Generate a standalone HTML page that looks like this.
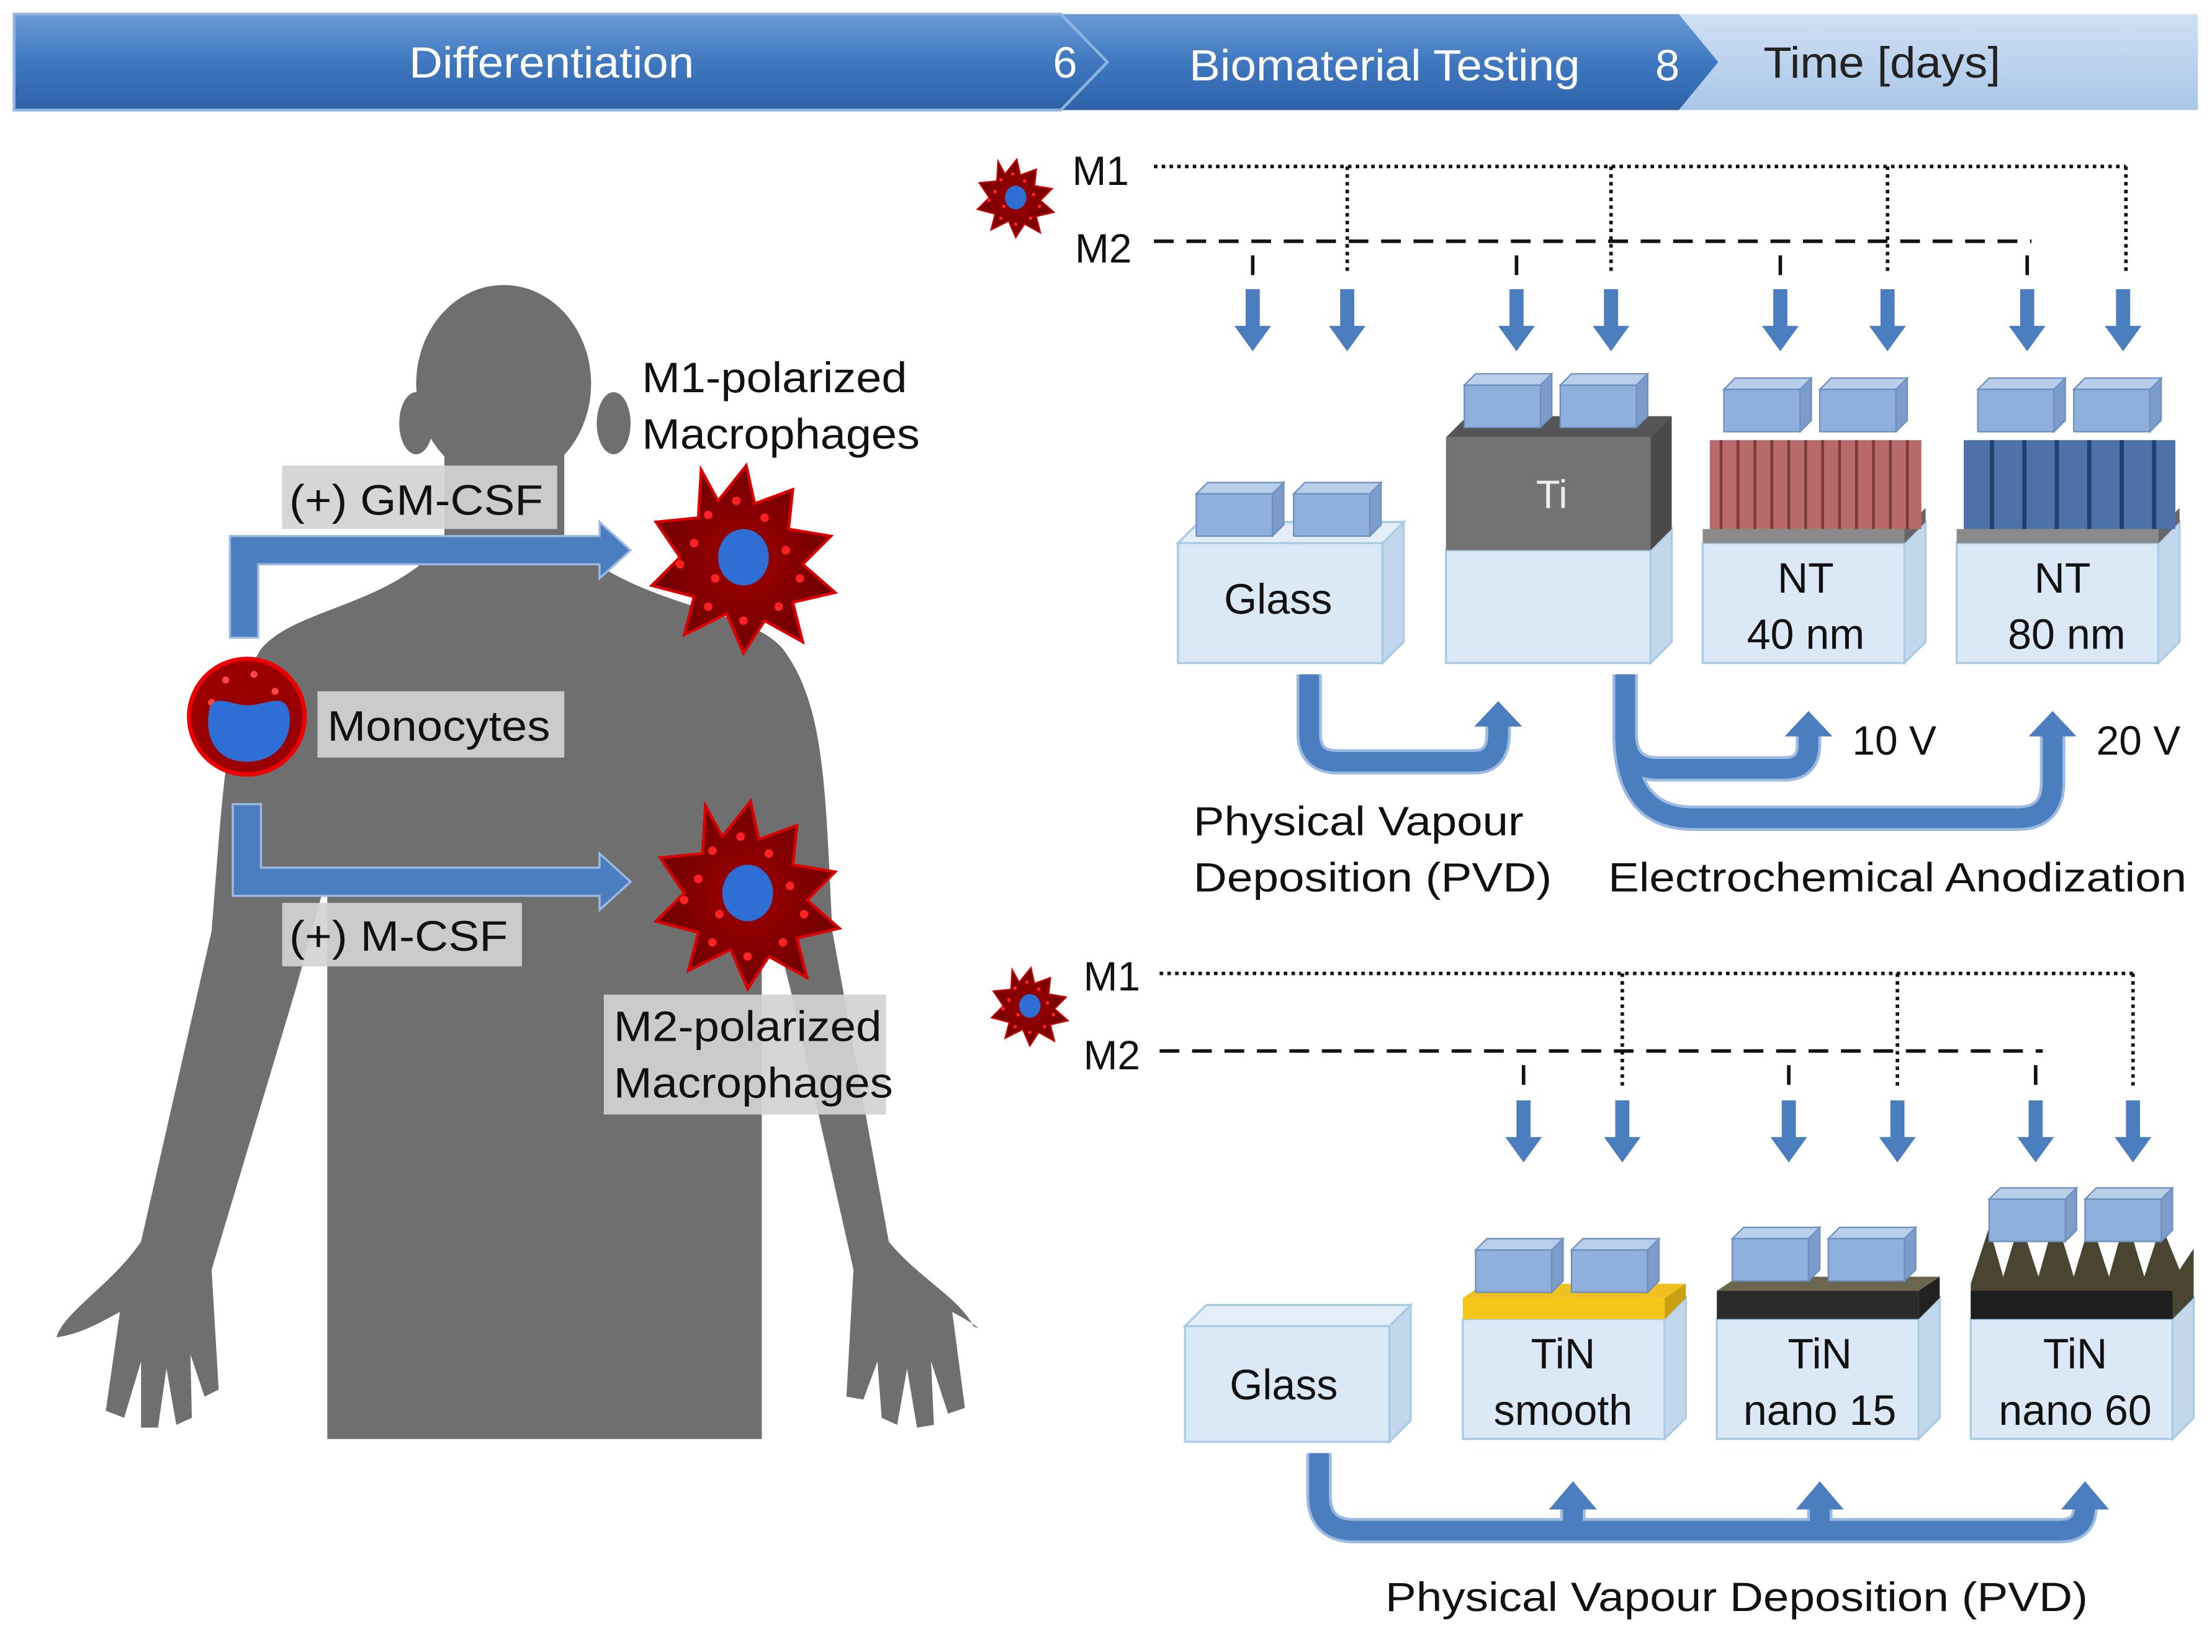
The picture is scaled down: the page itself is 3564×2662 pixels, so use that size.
<!DOCTYPE html>
<html><head><meta charset="utf-8"><style>html,body{margin:0;padding:0;background:#fff}svg{display:block}text{font-family:"Liberation Sans",sans-serif}</style></head>
<body>
<svg width="3564" height="2662" viewBox="0 0 1568 1171" preserveAspectRatio="none" xmlns="http://www.w3.org/2000/svg">
<defs>
<linearGradient id="ban" x1="0" y1="0" x2="0" y2="1"><stop offset="0" stop-color="#6a9bd6"/><stop offset="0.5" stop-color="#3f78c0"/><stop offset="1" stop-color="#2f63a8"/></linearGradient>
<linearGradient id="ban2" x1="0" y1="0" x2="0" y2="1"><stop offset="0" stop-color="#cfe0f3"/><stop offset="1" stop-color="#a9c6e8"/></linearGradient>
<radialGradient id="cell"><stop offset="0" stop-color="#a00000"/><stop offset="1" stop-color="#700000"/></radialGradient>
<g id="cube"><polygon points="0,8 8,0 62,0 54,8" fill="#b9cfe9" stroke="#6c8fbf"/><rect x="0" y="8" width="54" height="30" fill="#8fb0dc" stroke="#6c8fbf"/><polygon points="54,8 62,0 62,30 54,38" fill="#7d9ccb" stroke="#6c8fbf"/></g>
<g id="dn"><rect x="-5" y="0" width="10" height="28" fill="#4a7ebf"/><polygon points="-13,26 13,26 0,44" fill="#4a7ebf"/></g>
<g id="mac"><path d="M-30,-62 L-18,-40 L2,-65 L8,-38 L35,-48 L32,-20 L62,-15 L42,5 L65,25 L35,32 L42,60 L15,45 L0,68 L-12,40 L-42,55 L-35,28 L-65,20 L-45,0 L-62,-25 L-32,-28 Z" fill="url(#cell)" stroke="#d00" stroke-width="2"/>
<g fill="#f22"><circle cx="-25" cy="-30" r="3"/><circle cx="-5" cy="-40" r="3"/><circle cx="15" cy="-28" r="3"/><circle cx="30" cy="-5" r="3"/><circle cx="40" cy="15" r="3"/><circle cx="25" cy="35" r="3"/><circle cx="0" cy="45" r="3"/><circle cx="-25" cy="35" r="3"/><circle cx="-45" cy="5" r="3"/><circle cx="-35" cy="-10" r="3"/><circle cx="-20" cy="15" r="3"/><circle cx="12" cy="-10" r="3"/></g>
<ellipse cx="0" cy="0" rx="18" ry="20" fill="#2e6fd6"/></g>
</defs>
<!-- banner -->
<rect x="10" y="10" width="1548" height="68" fill="url(#ban2)"/>
<polygon points="10,10 1190,10 1218,44 1190,78 10,78" fill="url(#ban)"/>
<polygon points="10,10 752,10 785,44 752,78 10,78" fill="url(#ban)" stroke="#8fb4e0" stroke-width="2"/>
<g lengthAdjust="spacingAndGlyphs">
<text x="290" y="55" font-size="31" fill="#fff" textLength="202" lengthAdjust="spacingAndGlyphs">Differentiation</text>
<text x="755" y="55" font-size="31" fill="#fff" text-anchor="middle">6</text>
<text x="843" y="57" font-size="31" fill="#fff" textLength="277" lengthAdjust="spacingAndGlyphs">Biomaterial Testing</text>
<text x="1182" y="57" font-size="31" fill="#fff" text-anchor="middle">8</text>
<text x="1250" y="55" font-size="31" fill="#222" textLength="168" lengthAdjust="spacingAndGlyphs">Time [days]</text>
</g>
<!-- human -->
<g fill="#6f6f6f">
<ellipse cx="357" cy="272" rx="62" ry="70"/>
<ellipse cx="295" cy="300" rx="12" ry="22"/><ellipse cx="435" cy="300" rx="12" ry="22"/>
<rect x="315" y="300" width="85" height="110"/>
<path d="M318,380 C280,430 210,430 185,460 C160,500 158,560 150,660 L100,880 C80,910 45,930 40,948 C60,945 75,935 85,930 L75,1000 L88,1005 L100,965 L100,1012 L112,1012 L118,970 L125,1010 L136,1005 L135,960 L145,990 L155,985 L150,900 L210,700 L232,620 L232,1020 L540,1020 L540,620 L560,700 L605,900 L600,990 L612,992 L622,965 L625,1005 L636,1010 L643,970 L650,1012 L662,1010 L660,965 L672,1002 L684,998 L675,930 C685,935 700,945 690,940 C680,920 650,905 630,880 L590,660 C585,560 585,500 555,460 C530,430 445,430 400,380 Z"/>
</g>
<!-- big blue arrows -->
<g fill="#4a7ebf" stroke="#9dbbe2" stroke-width="1.5">
<path d="M163,452 L163,380 L425,380 L425,370 L447,390 L425,410 L425,400 L183,400 L183,452 Z"/>
<path d="M165,570 L185,570 L185,615 L425,615 L425,605 L447,625 L425,645 L425,635 L165,635 Z"/>
</g>
<!-- labels -->
<g fill="#d2d2d2" opacity="0.92">
<rect x="200" y="330" width="195" height="45"/><rect x="225" y="490" width="175" height="47"/><rect x="200" y="640" width="170" height="45"/><rect x="428" y="705" width="200" height="85"/>
</g>
<g font-size="30" fill="#111">
<text x="205" y="365" textLength="180" lengthAdjust="spacingAndGlyphs">(+) GM-CSF</text>
<text x="232" y="525" textLength="158" lengthAdjust="spacingAndGlyphs">Monocytes</text>
<text x="205" y="674" textLength="155" lengthAdjust="spacingAndGlyphs">(+) M-CSF</text>
<text x="435" y="738" textLength="190" lengthAdjust="spacingAndGlyphs">M2-polarized</text><text x="435" y="778" textLength="198" lengthAdjust="spacingAndGlyphs">Macrophages</text>
<text x="455" y="278" textLength="188" lengthAdjust="spacingAndGlyphs">M1-polarized</text><text x="455" y="318" textLength="197" lengthAdjust="spacingAndGlyphs">Macrophages</text>
</g>
<use href="#mac" transform="translate(527,395)"/>
<use href="#mac" transform="translate(530,633)"/>
<circle cx="175" cy="508" r="41" fill="#9a0000" stroke="#e00" stroke-width="3"/>
<g fill="#f44"><circle cx="160" cy="482" r="2.5"/><circle cx="180" cy="478" r="2.5"/><circle cx="195" cy="490" r="2.5"/><circle cx="150" cy="498" r="2.5"/></g>
<path d="M148,505 C150,490 165,500 175,500 C188,500 202,490 205,505 C208,525 195,540 175,540 C155,540 145,525 148,505 Z" fill="#2e6fd6"/>
<!-- top legend -->
<use href="#mac" transform="translate(720,140) scale(0.42)"/>
<text x="760" y="131" font-size="29" fill="#111">M1</text>
<text x="762" y="186" font-size="29" fill="#111">M2</text>
<g stroke="#111" stroke-width="2.5" fill="none">
<path d="M818,118 L1507,118 M955,118 V195 M1142,118 V195 M1338,118 V195 M1507,118 V195" stroke-dasharray="2.5,3"/>
<path d="M818,171 L1440,171 M888,181 V195 M1075,181 V195 M1262,181 V195 M1437,181 V195" stroke-dasharray="14,9"/>
<path d="M822,690 L1512,690 M1150,690 V770 M1345,690 V770 M1512,690 V770" stroke-dasharray="2.5,3"/>
<path d="M822,745 L1448,745 M1080,755 V770 M1268,755 V770 M1443,755 V770" stroke-dasharray="14,9"/>
</g>
<use href="#mac" transform="translate(730,713) scale(0.42)"/>
<text x="768" y="702" font-size="29" fill="#111">M1</text>
<text x="768" y="758" font-size="29" fill="#111">M2</text>
<g>
<use href="#dn" x="888" y="205"/><use href="#dn" x="955" y="205"/><use href="#dn" x="1075" y="205"/><use href="#dn" x="1142" y="205"/><use href="#dn" x="1262" y="205"/><use href="#dn" x="1338" y="205"/><use href="#dn" x="1437" y="205"/><use href="#dn" x="1505" y="205"/>
<use href="#dn" x="1080" y="780"/><use href="#dn" x="1150" y="780"/><use href="#dn" x="1268" y="780"/><use href="#dn" x="1345" y="780"/><use href="#dn" x="1443" y="780"/><use href="#dn" x="1512" y="780"/>
</g>
<!-- boxes top -->
<g stroke="#a9cbe4" stroke-width="1.5">
<polygon points="835,385 850,370 995,370 980,385" fill="#e3eef8"/><rect x="835" y="385" width="145" height="85" fill="#dbe9f6"/><polygon points="980,385 995,370 995,455 980,470" fill="#c3d7ea"/>
<rect x="1025" y="390" width="145" height="80" fill="#dbe9f6"/><polygon points="1170,390 1185,375 1185,455 1170,470" fill="#c3d7ea"/>
<rect x="1207" y="385" width="143" height="85" fill="#dbe9f6"/><polygon points="1350,385 1365,370 1365,455 1350,470" fill="#c3d7ea"/>
<rect x="1387" y="385" width="143" height="85" fill="#dbe9f6"/><polygon points="1530,385 1545,370 1545,455 1530,470" fill="#c3d7ea"/>
</g>
<polygon points="1025,310 1040,295 1185,295 1170,310" fill="#555"/><rect x="1025" y="310" width="145" height="80" fill="#737373"/><polygon points="1170,310 1185,295 1185,375 1170,390" fill="#4a4a4a"/>
<text x="1100" y="360" font-size="28" fill="#eee" text-anchor="middle">Ti</text>
<use href="#cube" x="848" y="342"/><use href="#cube" x="917" y="342"/>
<use href="#cube" x="1038" y="265"/><use href="#cube" x="1106" y="265"/>
<!-- NT40 -->
<rect x="1207" y="375" width="143" height="10" fill="#8a8a8a"/><polygon points="1350,375 1365,360 1365,370 1350,385" fill="#666"/>
<rect x="1212" y="312" width="150" height="63" fill="#b86a6a"/>
<g stroke="#7a3a3a" stroke-width="2"><path d="M1220,312V375M1232,312V375M1244,312V375M1256,312V375M1268,312V375M1280,312V375M1292,312V375M1304,312V375M1316,312V375M1328,312V375M1340,312V375M1352,312V375"/></g>
<use href="#cube" x="1222" y="268"/><use href="#cube" x="1290" y="268"/>
<!-- NT80 -->
<rect x="1387" y="375" width="143" height="10" fill="#8a8a8a"/><polygon points="1530,375 1545,360 1545,370 1530,385" fill="#666"/>
<rect x="1392" y="312" width="150" height="63" fill="#4d72a8"/>
<g stroke="#22406e" stroke-width="3"><path d="M1412,312V375M1435,312V375M1458,312V375M1481,312V375M1504,312V375M1527,312V375"/></g>
<use href="#cube" x="1402" y="268"/><use href="#cube" x="1470" y="268"/>
<g font-size="30" fill="#111" text-anchor="middle">
<text x="906" y="435">Glass</text>
<text x="1280" y="420">NT</text><text x="1280" y="460">40 nm</text>
<text x="1462" y="420">NT</text><text x="1465" y="460">80 nm</text>
</g>
<!-- bottom boxes -->
<g stroke="#a9cbe4" stroke-width="1.5">
<polygon points="840,940 855,925 1000,925 985,940" fill="#e3eef8"/><rect x="840" y="940" width="145" height="82" fill="#dbe9f6"/><polygon points="985,940 1000,925 1000,1007 985,1022" fill="#c3d7ea"/>
<rect x="1037" y="935" width="143" height="85" fill="#dbe9f6"/><polygon points="1180,935 1195,920 1195,1005 1180,1020" fill="#c3d7ea"/>
<rect x="1217" y="935" width="143" height="85" fill="#dbe9f6"/><polygon points="1360,935 1375,920 1375,1005 1360,1020" fill="#c3d7ea"/>
<rect x="1397" y="935" width="143" height="85" fill="#dbe9f6"/><polygon points="1540,935 1555,920 1555,1005 1540,1020" fill="#c3d7ea"/>
</g>
<polygon points="1037,920 1052,910 1195,910 1180,920" fill="#f0c020"/><rect x="1037" y="920" width="143" height="15" fill="#f5c518"/><polygon points="1180,920 1195,910 1195,920 1180,935" fill="#c9a010"/>
<use href="#cube" x="1046" y="878"/><use href="#cube" x="1114" y="878"/>
<polygon points="1217,915 1232,905 1375,905 1360,915" fill="#6b6650"/><rect x="1217" y="915" width="143" height="20" fill="#2b2b2b"/><polygon points="1360,915 1375,905 1375,920 1360,935" fill="#222"/>
<use href="#cube" x="1228" y="870"/><use href="#cube" x="1296" y="870"/>
<polygon points="1397,935 1397,910 1410,870 1420,905 1432,865 1445,905 1457,862 1470,905 1482,865 1495,905 1507,862 1520,905 1532,868 1545,900 1555,885 1555,920 1540,935" fill="#4a4530"/>
<rect x="1397" y="915" width="143" height="20" fill="#1e1e1e"/>
<use href="#cube" x="1410" y="842"/><use href="#cube" x="1478" y="842"/>
<g font-size="30" fill="#111" text-anchor="middle">
<text x="910" y="992">Glass</text>
<text x="1108" y="970">TiN</text><text x="1108" y="1010">smooth</text>
<text x="1290" y="970">TiN</text><text x="1290" y="1010">nano 15</text>
<text x="1471" y="970">TiN</text><text x="1471" y="1010">nano 60</text>
</g>
<!-- curved arrows -->
<g fill="none" stroke="#9dbbe2" stroke-width="18" stroke-linejoin="round">
<path d="M928,478 V520 Q928,540 948,540 H1045 Q1062,540 1062,520 V512"/>
<path d="M1152,478 V520 Q1152,545 1175,545 H1265 Q1282,545 1282,528 V520"/>
<path d="M1152,520 Q1152,580 1200,580 H1430 Q1455,580 1455,555 V520"/>
<path d="M935,1030 V1060 Q935,1085 960,1085 H1460 Q1478,1085 1478,1068 M1115,1085 V1068 M1290,1085 V1068"/>
</g>
<g fill="none" stroke="#4a7ebf" stroke-width="14" stroke-linejoin="round">
<path d="M928,478 V520 Q928,540 948,540 H1045 Q1062,540 1062,520 V512"/>
<path d="M1152,478 V520 Q1152,545 1175,545 H1265 Q1282,545 1282,528 V520"/>
<path d="M1152,520 Q1152,580 1200,580 H1430 Q1455,580 1455,555 V520"/>
<path d="M935,1030 V1060 Q935,1085 960,1085 H1460 Q1478,1085 1478,1068 M1115,1085 V1068 M1290,1085 V1068"/>
</g>
<g fill="#4a7ebf">
<polygon points="1045,515 1079,515 1062,497"/><polygon points="1265,522 1299,522 1282,504"/><polygon points="1438,522 1472,522 1455,504"/>
<polygon points="1098,1070 1132,1070 1115,1050"/><polygon points="1273,1070 1307,1070 1290,1050"/><polygon points="1461,1070 1495,1070 1478,1050"/>
</g>
<g font-size="29" fill="#111">
<text x="1313" y="535">10 V</text><text x="1486" y="535">20 V</text>
<text x="846" y="592" textLength="234" lengthAdjust="spacingAndGlyphs">Physical Vapour</text><text x="846" y="632" textLength="254" lengthAdjust="spacingAndGlyphs">Deposition (PVD)</text>
<text x="1140" y="632" textLength="410" lengthAdjust="spacingAndGlyphs">Electrochemical Anodization</text>
<text x="982" y="1142" textLength="498" lengthAdjust="spacingAndGlyphs">Physical Vapour Deposition (PVD)</text>
</g>
</svg>
</body></html>
